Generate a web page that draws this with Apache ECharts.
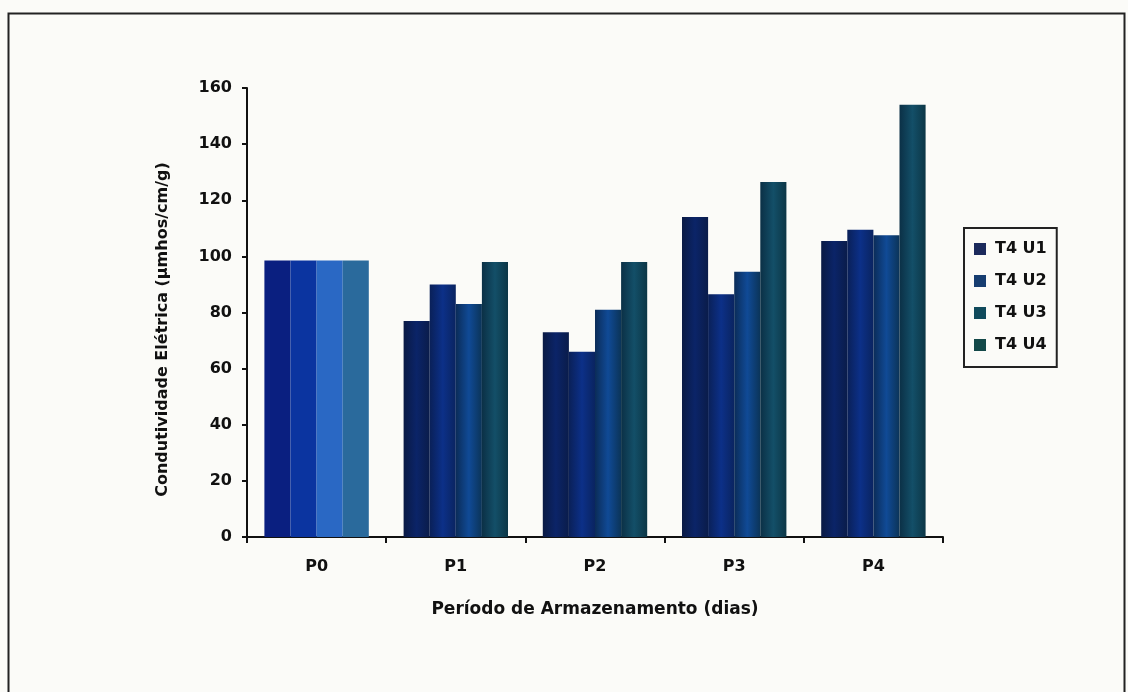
<!DOCTYPE html>
<html><head><meta charset="utf-8">
<script src="https://cdn.jsdelivr.net/npm/echarts@6/dist/echarts.min.js"></script>
<style>html,body{margin:0;padding:0;background:#fbfbf8}#c{width:1128px;height:692px}</style>
</head><body><div id="c"></div>
<script>
const categories = ['P0','P1','P2','P3','P4'];
const seriesNames = ['T4 U1','T4 U2','T4 U3','T4 U4'];
const u1 = [98.5, 77, 73, 114, 105.5];
const u2 = [98.5, 90, 66, 86.5, 109.5];
const u3 = [98.5, 83, 81, 94.5, 107.5];
const u4 = [98.5, 98, 98, 126.5, 154];
const yTicks = [0, 20, 40, 60, 80, 100, 120, 140, 160];
const values = [u1, u2, u3, u4];

const colors = [
  ['#0a1a44', '#0b2468', '#0a1c4a'],
  ['#0a2058', '#0c3088', '#0a2460'],
  ['#0b2c58', '#104a96', '#0b3458'],
  ['#0b3046', '#134f68', '#0c3646']
];
const p0colors = ['#0a1f80', '#0b34a0', '#2a68c4', '#2a6a9c'];
const legendColors = ['#1b2a5c', '#163d70', '#104a5c', '#134848'];

function grad(c) {
  return new echarts.graphic.LinearGradient(0, 0, 1, 0, [
    {offset: 0, color: c[0]}, {offset: 0.5, color: c[1]}, {offset: 1, color: c[2]}
  ]);
}

const chart = echarts.init(document.getElementById('c'), null, {renderer: 'canvas'});
const font = '"DejaVu Sans", "Liberation Sans", Arial, sans-serif';
chart.setOption({
  backgroundColor: '#fbfbf8',
  animation: false,
  graphic: [{
    type: 'rect', left: 6, top: 11, shape: {width: 1116, height: 690},
    style: {fill: 'none', stroke: '#222', lineWidth: 2}, silent: true
  }],
  grid: {left: 247, right: 185, top: 88, bottom: 155, containLabel: false},
  legend: {
    orient: 'vertical', left: 964, top: 228,
    data: seriesNames.map((n, i) => ({name: n, itemStyle: {color: legendColors[i]}})),
    itemWidth: 12, itemHeight: 12, itemGap: 16,
    padding: [13, 10, 14, 10],
    borderColor: '#222', borderWidth: 2,
    textStyle: {fontFamily: font, fontWeight: 'bold', fontSize: 16, color: '#111', padding: [0, 0, 0, 4]},
    icon: 'rect'
  },
  xAxis: {
    type: 'category', data: categories,
    axisLine: {lineStyle: {color: '#111', width: 2}},
    axisTick: {show: true, length: 6, lineStyle: {color: '#111', width: 2}},
    axisLabel: {fontFamily: font, fontWeight: 'bold', fontSize: 16, color: '#111', margin: 22},
    name: 'Período de Armazenamento (dias)', nameLocation: 'middle', nameGap: 64,
    nameTextStyle: {fontFamily: font, fontWeight: 'bold', fontSize: 17, color: '#111'}
  },
  yAxis: {
    type: 'value', min: 0, max: 160, interval: 20,
    axisLine: {show: true, lineStyle: {color: '#111', width: 2}},
    axisTick: {show: true, length: 5, lineStyle: {color: '#111', width: 2}},
    splitLine: {show: false},
    axisLabel: {fontFamily: font, fontWeight: 'bold', fontSize: 16, color: '#111', margin: 15},
    name: 'Condutividade Elétrica (µmhos/cm/g)', nameLocation: 'middle', nameGap: 76,
    nameTextStyle: {fontFamily: font, fontWeight: 'bold', fontSize: 16, color: '#111', padding: [0, 34, 0, 0]}
  },
  series: seriesNames.map((n, i) => ({
    name: n, type: 'bar',
    barGap: '0%', barCategoryGap: '25%',
    itemStyle: {color: grad(colors[i])},
    data: values[i].map((v, j) => j === 0 ? {value: v, itemStyle: {color: p0colors[i]}} : v)
  }))
});
</script></body></html>
